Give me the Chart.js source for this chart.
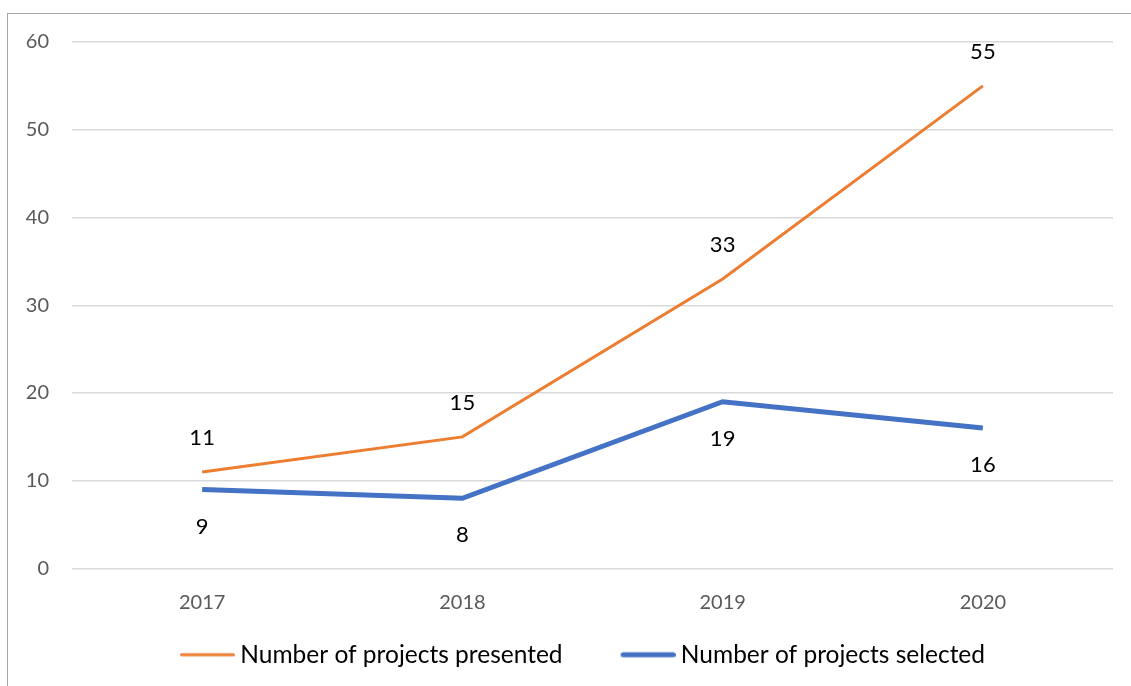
<!DOCTYPE html>
<html>
<head>
<meta charset="utf-8">
<script src="https://cdn.jsdelivr.net/npm/chart.js@4/dist/chart.umd.min.js"></script>
<style>
  html, body { margin: 0; padding: 0; background: #fff; overflow: hidden; }
  #frame { position: absolute; left: 7px; top: 13px; width: 1300px; height: 900px; border: 1.5px solid #a6a6a6; }
  #wrap { position: absolute; left: 0; top: 0; width: 1131px; height: 686px; }
</style>
</head>
<body>
<div id="frame"></div>
<div id="wrap"><canvas id="projectsChart" width="1131" height="686"></canvas></div>
<script>
// Yearly project counts
const years = ['2017', '2018', '2019', '2020'];
const presented = [11, 15, 33, 55];
const selected = [9, 8, 19, 16];
const yTicks = [0, 10, 20, 30, 40, 50, 60];

// Legend swatch: a short line sitting at the right edge of a wider box
const SWATCH_BOX = 100;
function legendLine(color, width) {
  const c = document.createElement('canvas');
  c.width = SWATCH_BOX + 14;
  c.height = 10;
  const g = c.getContext('2d');
  g.strokeStyle = color;
  g.lineWidth = width;
  g.lineCap = 'round';
  g.beginPath();
  g.moveTo(c.width - 55 + width / 2, 5);
  g.lineTo(c.width - width / 2, 5);
  g.stroke();
  return c;
}

// Draws each point's value above or below the line
const valueLabels = {
  id: 'valueLabels',
  afterDatasetsDraw(chart) {
    const ctx = chart.ctx;
    ctx.save();
    ctx.font = '22px Lato';
    ctx.fillStyle = '#000';
    ctx.textAlign = 'center';
    ctx.textBaseline = 'middle';
    chart.data.datasets.forEach((ds, i) => {
      const meta = chart.getDatasetMeta(i);
      meta.data.forEach((pt, j) => {
        ctx.fillText(String(ds.data[j]), pt.x, pt.y + ds.labelOffset);
      });
    });
    ctx.restore();
  }
};

const ctx = document.getElementById('projectsChart').getContext('2d');
const projectsChart = new Chart(ctx, {
  type: 'line',
  data: {
    labels: years,
    datasets: [{
      label: 'Number of projects presented',
      data: presented,
      borderColor: '#ED7D31',
      backgroundColor: '#ED7D31',
      borderWidth: 3,
      pointRadius: 0,
      tension: 0,
      labelOffset: -34,
      swatch: legendLine('#ED7D31', 3)
    }, {
      label: 'Number of projects selected',
      data: selected,
      borderColor: '#4472C4',
      backgroundColor: '#4472C4',
      borderWidth: 5,
      pointRadius: 0,
      tension: 0,
      labelOffset: 37,
      swatch: legendLine('#4472C4', 5)
    }]
  },
  options: {
    responsive: false,
    animation: false,
    devicePixelRatio: 1,
    layout: { padding: { left: 0, right: 18, top: 42, bottom: 9 } },
    scales: {
      x: {
        offset: true,
        grid: { display: false, drawTicks: false },
        border: { display: false },
        ticks: { color: '#595959', font: { family: 'Lato', size: 20 }, padding: 22 }
      },
      y: {
        min: 0,
        max: 60,
        afterBuildTicks(scale) { scale.ticks = yTicks.map(v => ({ value: v })); },
        afterFit(scale) { scale.width = 72; },
        grid: { color: '#d9d9d9', lineWidth: 1.5, drawTicks: false },
        border: { display: false },
        ticks: { color: '#595959', font: { family: 'Lato', size: 20 }, padding: 23 }
      }
    },
    plugins: {
      legend: {
        position: 'bottom',
        labels: {
          usePointStyle: true,
          pointStyleWidth: SWATCH_BOX,
          color: '#000',
          font: { family: 'Lato', size: 24.5 },
          padding: 6,
          generateLabels(chart) {
            const items = Chart.defaults.plugins.legend.labels.generateLabels(chart);
            items.forEach(it => { it.pointStyle = chart.data.datasets[it.datasetIndex].swatch; });
            return items;
          }
        }
      },
      tooltip: { enabled: false }
    }
  },
  plugins: [valueLabels]
});
</script>
</body>
</html>
